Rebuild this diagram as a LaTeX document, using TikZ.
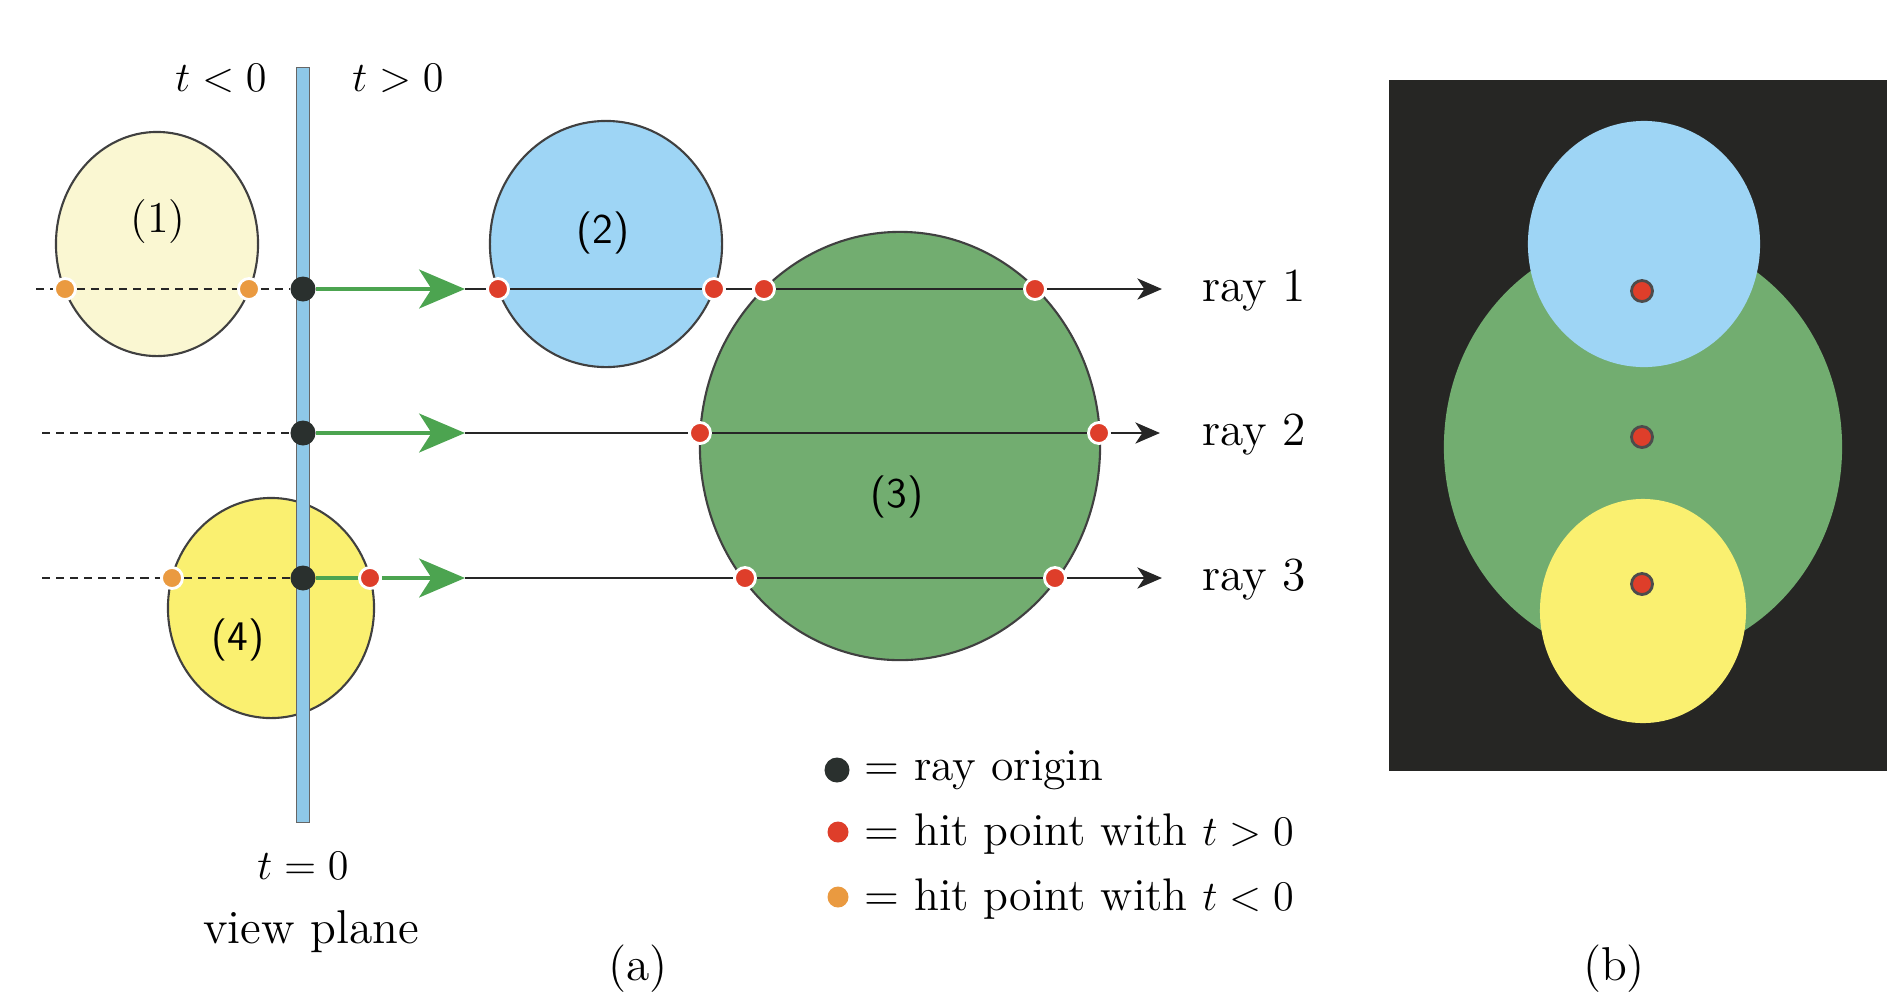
\documentclass[tikz,border=0pt]{standalone}
\usepackage{amsmath}
\usepackage{xcolor}
\usepackage{tikz}
\usetikzlibrary{arrows.meta, shapes.geometric, positioning, calc}
\definecolor{sphcream}{RGB}{250, 247, 210}
\definecolor{sphblue}{RGB}{158, 213, 245}
\definecolor{sphgreen}{RGB}{114, 173, 112}
\definecolor{sphyellow}{RGB}{250, 240, 112}
\definecolor{planeblue}{RGB}{142, 200, 232}
\definecolor{raygreen}{RGB}{76, 164, 80}
\definecolor{hitred}{RGB}{222, 62, 42}
\definecolor{hitorange}{RGB}{234, 154, 64}
\definecolor{origindark}{RGB}{42, 48, 46}
\definecolor{panelbg}{RGB}{38, 38, 36}

\tikzset{
  sphere/.style={ellipse, draw=black!75, line width=0.6pt, inner sep=0pt},
  flatsphere/.style={ellipse, inner sep=0pt},
  viewplane/.style={rectangle, fill=planeblue, draw=black!60, line width=0.4pt,
    inner sep=0pt, minimum width=0.13cm, minimum height=7.54cm},
  origin/.style={circle, fill=origindark, inner sep=0pt, minimum size=0.25cm},
  hitpos/.style={circle, fill=hitred, draw=white, line width=0.8pt, inner sep=0pt, minimum size=0.21cm},
  hitneg/.style={circle, fill=hitorange, draw=white, line width=0.8pt, inner sep=0pt, minimum size=0.21cm},
  dashline/.style={dashed, dash pattern=on 2.3pt off 1.7pt, line width=0.5pt, black!85},
  greenray/.style={line width=1.4pt, raygreen, -{Stealth[length=13pt, width=11pt, inset=3.5pt]}},
  blackray/.style={line width=0.7pt, black!85, -{Stealth[length=7pt, width=6pt, inset=2pt]}},
  sphlabel/.style={font=\fontsize{12.5}{15}\selectfont},
  sphlabelsf/.style={font=\sffamily\fontsize{12}{14}\selectfont},
  keytext/.style={anchor=west, font=\fontsize{13}{15}\selectfont},
  tlabel/.style={font=\fontsize{12.5}{15}\selectfont}
}

\begin{document}
\begin{tikzpicture}[x=0.01cm, y=-0.01cm, font=\fontsize{13.5}{16}\selectfont]
  \useasboundingbox (0,0) rectangle (1899,996);

  % Spheres
  \node[sphere, fill=sphcream,  minimum width=2.02cm, minimum height=2.24cm] (sph1) at (157,244) {};
  \node[sphere, fill=sphblue,   minimum width=2.32cm, minimum height=2.46cm] (sph2) at (606,244) {};
  \node[sphere, fill=sphgreen,  minimum width=4.00cm, minimum height=4.28cm] (sph3) at (900,446) {};
  \node[sphere, fill=sphyellow, minimum width=2.06cm, minimum height=2.20cm] (sph4) at (271,608) {};

  \node[sphlabel] (lab1) at (158,222) {(1)};
  \node[sphlabelsf] (lab2) at (603,233) {(2)};
  \node[sphlabelsf] (lab3) at (897,497) {(3)};
  \node[sphlabelsf] (lab4) at (238,640) {(4)};

  % View plane
  \node[viewplane] (plane) at (303,445) {};
  \node[tlabel] (tneg) at (221,78) {$t < 0$};
  \node[tlabel] (tpos) at (398,78) {$t > 0$};
  \node[tlabel] (tzero) at (303,866) {$t = 0$};
  \node (vplane) at (311,932) {view plane};

  % Ray origins and hit points
  \node[origin] (o1) at (303,289) {};
  \node[origin] (o2) at (303,433) {};
  \node[origin] (o3) at (303,578) {};

  \node[hitneg] (h11) at (65,289) {};
  \node[hitneg] (h12) at (249,289) {};
  \node[hitpos] (h13) at (498,289) {};
  \node[hitpos] (h14) at (714,289) {};
  \node[hitpos] (h15) at (764,289) {};
  \node[hitpos] (h16) at (1035,289) {};

  \node[hitpos] (h21) at (700,433) {};
  \node[hitpos] (h22) at (1099,433) {};

  \node[hitneg] (h31) at (172,578) {};
  \node[hitpos] (h32) at (370,578) {};
  \node[hitpos] (h33) at (745,578) {};
  \node[hitpos] (h34) at (1055,578) {};

  \coordinate (d1) at (36,289);
  \coordinate (g1) at (465,289);
  \coordinate (e1) at (1162,289);
  \coordinate (d2) at (42,433);
  \coordinate (g2) at (465,433);
  \coordinate (e2) at (1160,433);
  \coordinate (d3) at (42,578);
  \coordinate (g3) at (465,578);
  \coordinate (e3) at (1162,578);

  % Rays
  \draw[dashline] (d1) -- (h11) -- (h12) -- (o1);
  \draw[greenray] (o1) -- (g1);
  \draw[blackray] (g1) -- (h13) -- (h14) -- (h15) -- (h16) -- (e1);

  \draw[dashline] (d2) -- (o2);
  \draw[greenray] (o2) -- (g2);
  \draw[blackray] (g2) -- (h21) -- (h22) -- (e2);

  \draw[dashline] (d3) -- (h31) -- (o3);
  \draw[greenray] (o3) -- (h32) -- (g3);
  \draw[blackray] (g3) -- (h33) -- (h34) -- (e3);

  \node[anchor=west] (ray1) at (1190,291) {ray 1};
  \node[anchor=west] (ray2) at (1190,435) {ray 2};
  \node[anchor=west] (ray3) at (1190,580) {ray 3};

  % Legend
  \node[origin] (key1) at (837,770) {};
  \node[hitpos, draw=none] (key2) at (838,832) {};
  \node[hitneg, draw=none] (key3) at (838,897) {};
  \node[keytext] (keytext1) at (852,770) {= ray origin};
  \node[keytext] (keytext2) at (852,834) {= hit point with $t > 0$};
  \node[keytext] (keytext3) at (852,899) {= hit point with $t < 0$};

  \node (capa) at (638,969) {(a)};

  % Rendered image
  \fill[panelbg] (1389,80) rectangle (1887,771);
  \node[flatsphere, fill=sphgreen,  minimum width=3.98cm, minimum height=4.26cm] (img3) at (1643,447) {};
  \node[flatsphere, fill=sphblue,   minimum width=2.32cm, minimum height=2.46cm] (img2) at (1644,244) {};
  \node[flatsphere, fill=sphyellow, minimum width=2.06cm, minimum height=2.24cm] (img4) at (1643,611) {};
  \node[hitpos, draw=black!70] (px1) at (1642,291) {};
  \node[hitpos, draw=black!70] (px2) at (1642,437) {};
  \node[hitpos, draw=black!70] (px3) at (1642,584) {};

  \node (capb) at (1614,969) {(b)};
\end{tikzpicture}
\end{document}
